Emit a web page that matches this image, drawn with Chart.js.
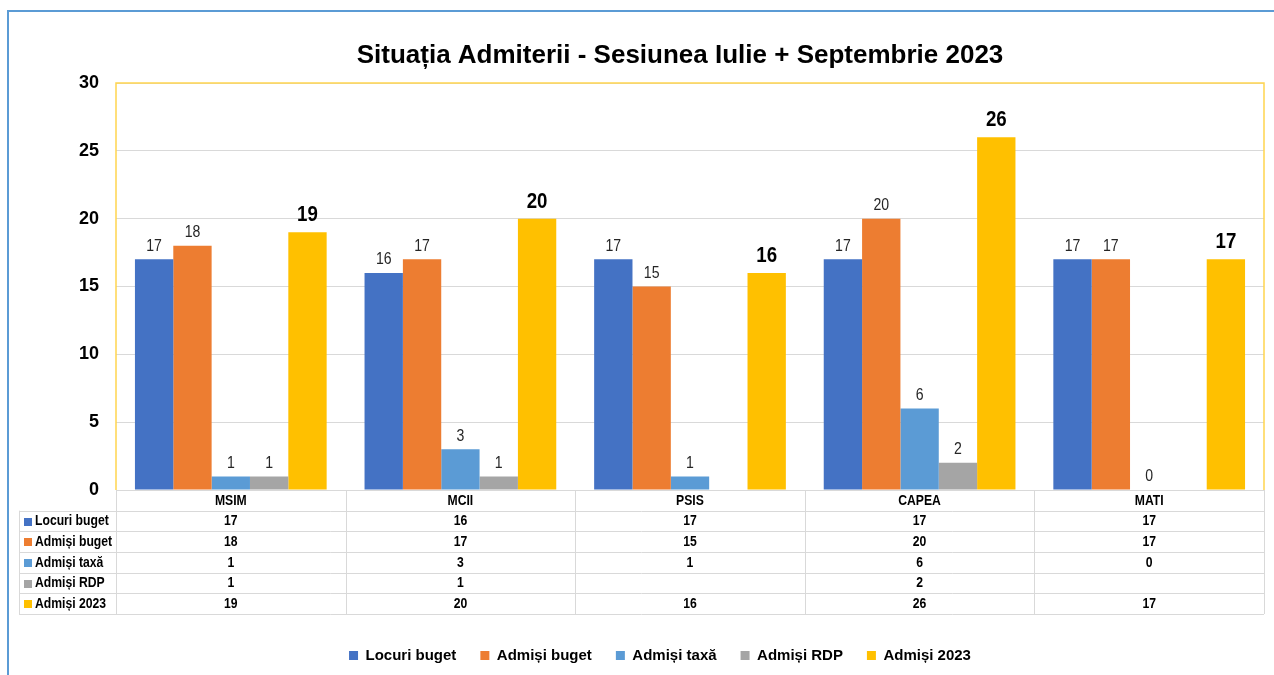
<!DOCTYPE html>
<html>
<head>
<meta charset="utf-8">
<script src="https://cdn.jsdelivr.net/npm/chart.js@4.4.0/dist/chart.umd.min.js"></script>
<style>
  html, body { margin: 0; padding: 0; background: #ffffff; }
  #wrap { position: relative; width: 1274px; height: 675px; overflow: hidden; }
  #frame { position: absolute; left: 7px; top: 10px; width: 1280px; height: 700px;
           border-top: 2px solid #5B9BD5; border-left: 2px solid #5B9BD5; box-sizing: border-box; }
  canvas { position: absolute; left: 0; top: 0; }
</style>
</head>
<body>
<div id="wrap">
  <div id="frame"></div>
  <canvas id="c" width="1274" height="675"></canvas>
</div>
<script>
const categories = ['MSIM', 'MCII', 'PSIS', 'CAPEA', 'MATI'];
const seriesNames = ['Locuri buget', 'Admiși buget', 'Admiși taxă', 'Admiși RDP', 'Admiși 2023'];
const locuriBuget = [17, 16, 17, 17, 17];
const admisiBuget = [18, 17, 15, 20, 17];
const admisiTaxa = [1, 3, 1, 6, 0];
const admisiRDP = [1, 1, null, 2, null];
const admisi2023 = [19, 20, 16, 26, 17];
const yTicks = [0, 5, 10, 15, 20, 25, 30];
const titleText = 'Situația Admiterii - Sesiunea Iulie + Septembrie 2023';

const colors = ['#4472C4', '#ED7D31', '#5B9BD5', '#A5A5A5', '#FFC000'];
const seriesValues = [locuriBuget, admisiBuget, admisiTaxa, admisiRDP, admisi2023];
const FONT = "'Liberation Sans', Arial, sans-serif";

const datasets = seriesNames.map((name, i) => ({
  label: name,
  data: seriesValues[i],
  backgroundColor: colors[i],
  borderWidth: 0,
  categoryPercentage: 0.835,
  barPercentage: 1.0
}));

// draw horizontally condensed text (mimics a narrow typeface)
function drawText(ctx, text, x, y, font, align, sx, color) {
  ctx.save();
  ctx.font = font;
  ctx.fillStyle = color;
  ctx.textAlign = align;
  ctx.textBaseline = 'middle';
  ctx.translate(x, y);
  ctx.scale(sx, 1);
  ctx.fillText(text, 0, 0);
  ctx.restore();
}

const decorPlugin = {
  id: 'decor',
  afterDatasetsDraw(chart) {
    const ctx = chart.ctx;
    chart.data.datasets.forEach((ds, di) => {
      const meta = chart.getDatasetMeta(di);
      meta.data.forEach((el, i) => {
        const v = ds.data[i];
        if (v === null || v === undefined) return;
        if (di === 4) {
          drawText(ctx, String(v), el.x, el.y - 17, "bold 22px " + FONT, 'center', 0.85, '#000000');
        } else {
          drawText(ctx, String(v), el.x, el.y - 13, "16px " + FONT, 'center', 0.88, '#262626');
        }
      });
    });
  },
  afterDraw(chart) {
    const ctx = chart.ctx;
    const ca = chart.chartArea;
    const xs = chart.scales.x;
    // plot border (yellow) on left, top, right
    ctx.save();
    ctx.strokeStyle = '#FFD54F';
    ctx.lineWidth = 1.5;
    ctx.beginPath();
    ctx.moveTo(ca.left, ca.bottom);
    ctx.lineTo(ca.left, ca.top);
    ctx.lineTo(ca.right, ca.top);
    ctx.lineTo(ca.right, ca.bottom);
    ctx.stroke();
    ctx.restore();

    // data table
    const n = categories.length;
    const colW = (ca.right - ca.left) / n;
    const rowH = 20.67;
    const top = ca.bottom;
    const labelLeft = 19;
    const rows = seriesNames.length;
    const bottom = top + rowH * (rows + 1);
    ctx.save();
    ctx.strokeStyle = '#D9D9D9';
    ctx.lineWidth = 1;
    ctx.beginPath();
    ctx.moveTo(ca.left, Math.round(top) + 0.5);
    ctx.lineTo(ca.right, Math.round(top) + 0.5);
    for (let r = 1; r <= rows + 1; r++) {
      const y = Math.round(top + r * rowH) + 0.5;
      ctx.moveTo(labelLeft, y);
      ctx.lineTo(ca.right, y);
    }
    for (let c = 0; c <= n; c++) {
      const x = Math.round(ca.left + c * colW) + 0.5;
      ctx.moveTo(x, top);
      ctx.lineTo(x, bottom);
    }
    ctx.moveTo(labelLeft + 0.5, top + rowH);
    ctx.lineTo(labelLeft + 0.5, bottom);
    ctx.stroke();
    ctx.restore();

    const tFont = "bold 14px " + FONT;
    categories.forEach((cat, c) => {
      drawText(ctx, cat, xs.getPixelForValue(c), top + rowH / 2 + 0.5, tFont, 'center', 0.87, '#000000');
    });
    for (let r = 0; r < rows; r++) {
      const yc = top + (r + 1) * rowH + rowH / 2 + 0.5;
      ctx.fillStyle = colors[r];
      ctx.fillRect(labelLeft + 5, Math.round(yc - 4), 8, 8);
      drawText(ctx, seriesNames[r], labelLeft + 16, yc, tFont, 'left', 0.87, '#000000');
      seriesValues[r].forEach((v, c) => {
        if (v === null || v === undefined) return;
        drawText(ctx, String(v), xs.getPixelForValue(c), yc, tFont, 'center', 0.87, '#000000');
      });
    }
    // title
    drawText(ctx, titleText, 680, 56, "bold 26px " + FONT, 'center', 1, '#000000');
  }
};

new Chart(document.getElementById('c'), {
  type: 'bar',
  data: { labels: categories, datasets: datasets },
  options: {
    responsive: false,
    animation: false,
    devicePixelRatio: 1,
    layout: { padding: { left: 56, right: 10, top: 83, bottom: 2 } },
    scales: {
      x: {
        display: true,
        grid: { display: false, drawTicks: false },
        border: { display: false },
        ticks: { display: false },
        afterFit(scale) { scale.height = 134; }
      },
      y: {
        min: 0,
        max: 30,
        afterBuildTicks(scale) { scale.ticks = yTicks.map(v => ({ value: v })); },
        grid: { color: '#D9D9D9', drawTicks: false, lineWidth: 1 },
        border: { display: false },
        ticks: {
          padding: 17,
          color: '#000000',
          font: { family: FONT, size: 18, weight: 'bold' }
        },
        afterFit(scale) { scale.width = 60; }
      }
    },
    plugins: {
      title: { display: false },
      tooltip: { enabled: false },
      legend: {
        display: true,
        position: 'bottom',
        labels: {
          boxWidth: 9,
          boxHeight: 9,
          padding: 24,
          color: '#000000',
          font: { family: FONT, size: 15, weight: 'bold' }
        }
      }
    }
  },
  plugins: [decorPlugin]
});
</script>
</body>
</html>
